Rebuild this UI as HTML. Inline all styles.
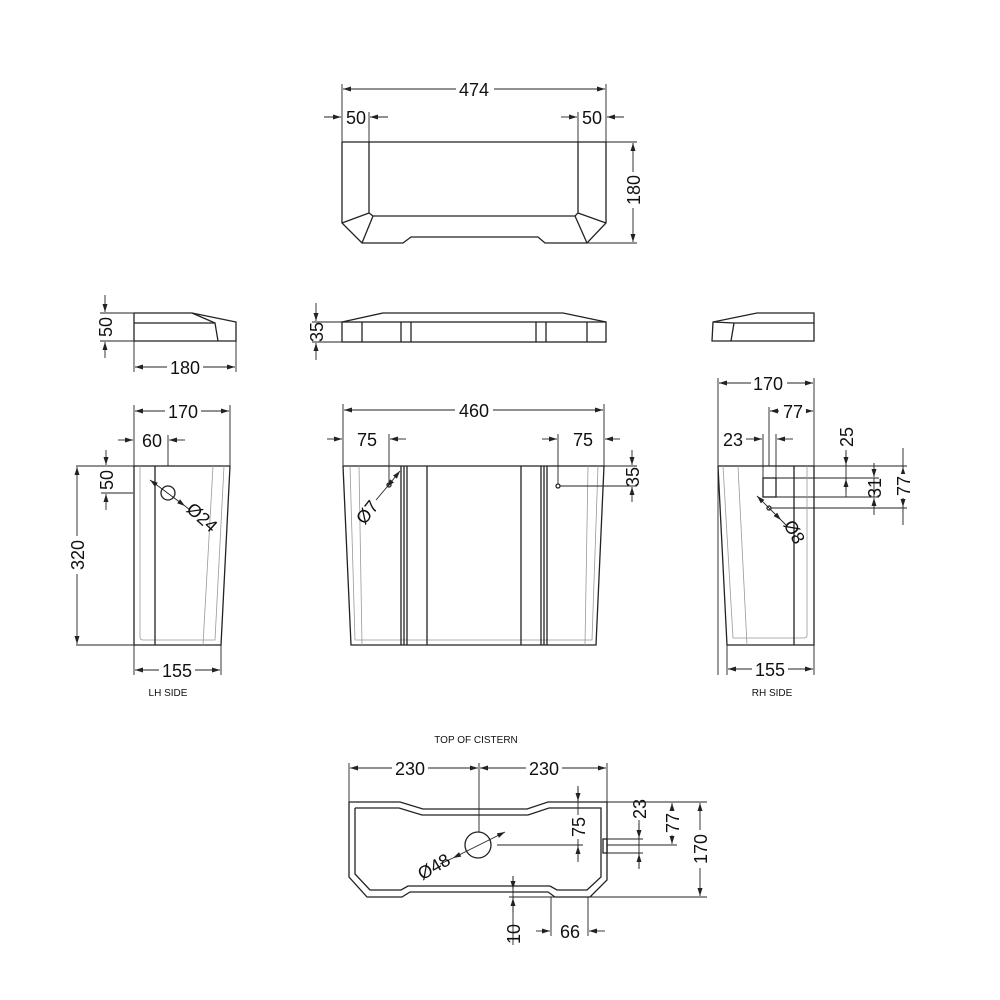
<!DOCTYPE html>
<html><head><meta charset="utf-8"><style>
html,body{margin:0;padding:0;background:#fff}
svg{display:block}
text{font-family:"Liberation Sans",sans-serif;font-size:18px;fill:#111}
.s{font-size:10px}
.b{fill:none;stroke:#222;stroke-width:1.3}
.l{fill:none;stroke:#999;stroke-width:0.8}
.d{fill:none;stroke:#222;stroke-width:0.9}
.a{fill:none;stroke:#222;stroke-width:0.9;marker-end:url(#m)}
.aa{fill:none;stroke:#222;stroke-width:0.9;marker-end:url(#m);marker-start:url(#m)}
</style></head><body>
<svg width="1000" height="1000" viewBox="0 0 1000 1000" xmlns="http://www.w3.org/2000/svg">
<defs><marker id="m" markerWidth="8" markerHeight="6" refX="8" refY="3" orient="auto-start-reverse" markerUnits="userSpaceOnUse"><path d="M0,0.5L8,3L0,5.5z" fill="#222"/></marker></defs>

<!-- TOP LID PLAN -->
<line class="d" x1="342" y1="84" x2="342" y2="142"/><line class="d" x1="606" y1="84" x2="606" y2="142"/>
<line class="aa" x1="343" y1="89" x2="605" y2="89"/>
<rect x="456" y="79" width="38" height="20" fill="#fff"/><text x="474" y="96" text-anchor="middle">474</text>
<line class="d" x1="369" y1="112" x2="369" y2="142"/><line class="d" x1="578" y1="112" x2="578" y2="142"/>
<line class="a" x1="324" y1="117" x2="341" y2="117"/><text x="356" y="124" text-anchor="middle">50</text><line class="a" x1="388" y1="117" x2="370" y2="117"/>
<line class="a" x1="561" y1="117" x2="577" y2="117"/><text x="592" y="124" text-anchor="middle">50</text><line class="a" x1="624" y1="117" x2="607" y2="117"/>
<line class="b" x1="342" y1="142" x2="606" y2="142"/><line class="d" x1="606" y1="142" x2="637" y2="142"/>
<polyline class="b" points="342,142 342,223 362,243 403,243 411,237 538,237 545,243 587,243 606,223 606,142"/>
<polyline class="b" points="369,142 369,213 373,216 575,216 578,213 578,142"/>
<line class="b" x1="369" y1="213" x2="342" y2="223"/><line class="b" x1="373" y1="216" x2="362" y2="243"/>
<line class="b" x1="578" y1="213" x2="606" y2="223"/><line class="b" x1="575" y1="216" x2="587" y2="243"/>
<line class="d" x1="587" y1="243" x2="637" y2="243"/>
<line class="aa" x1="633" y1="143" x2="633" y2="242"/>
<rect x="623" y="172" width="20" height="36" fill="#fff"/><text transform="translate(640,190) rotate(-90)" text-anchor="middle">180</text>

<!-- FRONT LID -->
<polyline class="b" points="342,322 383,313 563,313 606,322"/>
<rect class="b" x="342" y="322" width="264" height="20"/>
<line class="b" x1="362" y1="322" x2="362" y2="342"/><line class="b" x1="401" y1="322" x2="401" y2="342"/><line class="b" x1="411" y1="322" x2="411" y2="342"/>
<line class="b" x1="536" y1="322" x2="536" y2="342"/><line class="b" x1="546" y1="322" x2="546" y2="342"/><line class="b" x1="587" y1="322" x2="587" y2="342"/>
<line class="a" x1="316" y1="303" x2="316" y2="321"/><line class="a" x1="316" y1="360" x2="316" y2="343"/>
<line class="d" x1="312" y1="322" x2="342" y2="322"/><line class="d" x1="312" y1="342" x2="342" y2="342"/>
<text transform="translate(323,332) rotate(-90)" text-anchor="middle">35</text>

<!-- LEFT LID SIDE -->
<polyline class="b" points="134,313 192,313 236,322 236,341 134,341 134,313"/>
<polyline class="b" points="134,323 215,323 218,341"/><line class="b" x1="192" y1="313" x2="215" y2="323"/>
<line class="d" x1="100" y1="313" x2="134" y2="313"/><line class="d" x1="100" y1="341" x2="134" y2="341"/>
<line class="a" x1="105" y1="295" x2="105" y2="312"/><line class="a" x1="105" y1="358" x2="105" y2="342"/>
<text transform="translate(112,327) rotate(-90)" text-anchor="middle">50</text>
<line class="d" x1="134" y1="341" x2="134" y2="372"/><line class="d" x1="236" y1="341" x2="236" y2="372"/>
<line class="aa" x1="135" y1="367" x2="235" y2="367"/><rect x="167" y="357" width="36" height="20" fill="#fff"/><text x="185" y="374" text-anchor="middle">180</text>

<!-- RIGHT LID SIDE -->
<polyline class="b" points="757,313 814,313 814,341 712,341 713,322 757,313"/>
<line class="b" x1="734" y1="323" x2="814" y2="323"/><line class="b" x1="734" y1="323" x2="731" y2="341"/><line class="b" x1="713" y1="322" x2="734" y2="323"/>

<!-- LH SIDE -->
<line class="d" x1="134" y1="405" x2="134" y2="675"/><line class="d" x1="230" y1="405" x2="230" y2="466"/>
<line class="aa" x1="135" y1="411" x2="229" y2="411"/><rect x="165" y="401" width="36" height="20" fill="#fff"/><text x="183" y="418" text-anchor="middle">170</text>
<line class="a" x1="118" y1="440" x2="133" y2="440"/><text x="152" y="447" text-anchor="middle">60</text><line class="d" x1="168" y1="435" x2="168" y2="466"/><line class="a" x1="185" y1="440" x2="169" y2="440"/>
<line class="d" x1="76" y1="466" x2="134" y2="466"/><line class="b" x1="134" y1="466" x2="230" y2="466"/>
<polyline class="b" points="134,466 134,645 221,645 230,466"/>
<path class="l" d="M140,466 L140,637 Q140,640 143,640 L215,640 L224,466"/>
<line class="l" x1="213" y1="466" x2="203" y2="645"/>
<line class="b" x1="155" y1="466" x2="155" y2="645"/>
<line class="d" x1="101" y1="493" x2="133" y2="493"/>
<line class="a" x1="106" y1="450" x2="106" y2="465"/><line class="a" x1="106" y1="510" x2="106" y2="494"/>
<text transform="translate(113,480) rotate(-90)" text-anchor="middle">50</text>
<line class="aa" x1="77" y1="467" x2="77" y2="644"/><line class="d" x1="76" y1="645" x2="134" y2="645"/>
<rect x="67" y="536" width="20" height="38" fill="#fff"/><text transform="translate(84,555) rotate(-90)" text-anchor="middle">320</text>
<circle class="b" cx="168" cy="493" r="7"/>
<line class="aa" x1="150" y1="480" x2="185" y2="506"/><line class="d" x1="185" y1="506" x2="190" y2="510"/>
<text transform="translate(198,522) rotate(42)" text-anchor="middle">Ø24</text>
<line class="d" x1="221" y1="645" x2="221" y2="675"/>
<line class="aa" x1="135" y1="670" x2="220" y2="670"/><rect x="159" y="660" width="36" height="20" fill="#fff"/><text x="177" y="677" text-anchor="middle">155</text>
<text class="s" x="168" y="696" text-anchor="middle">LH SIDE</text>

<!-- FRONT VIEW -->
<line class="d" x1="343" y1="404" x2="343" y2="466"/><line class="d" x1="604" y1="404" x2="604" y2="466"/>
<line class="aa" x1="344" y1="410" x2="603" y2="410"/><rect x="455" y="400" width="38" height="20" fill="#fff"/><text x="474" y="417" text-anchor="middle">460</text>
<line class="a" x1="327" y1="439" x2="342" y2="439"/><text x="367" y="446" text-anchor="middle">75</text><line class="d" x1="389" y1="434" x2="389" y2="485"/><line class="a" x1="406" y1="439" x2="390" y2="439"/>
<line class="a" x1="542" y1="439" x2="557" y2="439"/><line class="d" x1="558" y1="434" x2="558" y2="484"/><text x="583" y="446" text-anchor="middle">75</text><line class="a" x1="620" y1="439" x2="605" y2="439"/>
<line class="b" x1="343" y1="466" x2="604" y2="466"/><line class="d" x1="604" y1="466" x2="637" y2="466"/>
<polyline class="b" points="343,466 351,645 596,645 604,466"/>
<polyline class="l" points="350,466 355,640 592,640 598,466"/>
<line class="l" x1="359" y1="466" x2="362" y2="645"/><line class="l" x1="588" y1="466" x2="585" y2="645"/>
<line class="b" x1="401" y1="466" x2="401" y2="645"/><line class="b" x1="404" y1="466" x2="404" y2="645"/><line class="b" x1="407" y1="466" x2="407" y2="645"/>
<line class="b" x1="427" y1="466" x2="427" y2="645"/><line class="b" x1="521" y1="466" x2="521" y2="645"/>
<line class="b" x1="541" y1="466" x2="541" y2="645"/><line class="b" x1="544" y1="466" x2="544" y2="645"/><line class="b" x1="547" y1="466" x2="547" y2="645"/>
<circle class="b" cx="389" cy="485" r="2"/><circle class="b" cx="558" cy="486" r="2"/>
<line class="aa" x1="400" y1="471" x2="387" y2="487"/><line class="d" x1="387" y1="487" x2="376" y2="500"/>
<text transform="translate(372,516) rotate(-52)" text-anchor="middle">Ø7</text>
<line class="d" x1="560" y1="486" x2="637" y2="486"/>
<line class="a" x1="632" y1="450" x2="632" y2="465"/><line class="a" x1="632" y1="502" x2="632" y2="487"/>
<text transform="translate(639,477) rotate(-90)" text-anchor="middle">35</text>

<!-- RH SIDE -->
<line class="d" x1="718" y1="378" x2="718" y2="675"/><line class="d" x1="814" y1="378" x2="814" y2="466"/>
<line class="aa" x1="719" y1="383" x2="813" y2="383"/><rect x="751" y="373" width="36" height="20" fill="#fff"/><text x="768" y="390" text-anchor="middle">170</text>
<line class="d" x1="769" y1="407" x2="769" y2="466"/>
<line class="aa" x1="770" y1="411" x2="813" y2="411"/><rect x="779" y="401" width="27" height="20" fill="#fff"/><text x="793" y="418" text-anchor="middle">77</text>
<line class="d" x1="763" y1="434" x2="763" y2="478"/><line class="d" x1="776" y1="434" x2="776" y2="478"/>
<line class="a" x1="746" y1="439" x2="762" y2="439"/><line class="a" x1="793" y1="439" x2="777" y2="439"/>
<text x="733" y="446" text-anchor="middle">23</text>
<line class="b" x1="718" y1="466" x2="814" y2="466"/><line class="d" x1="814" y1="466" x2="907" y2="466"/>
<rect class="b" x="763" y="478" width="13" height="19"/>
<line class="d" x1="776" y1="478" x2="879" y2="478"/><line class="d" x1="776" y1="497" x2="850" y2="497"/>
<line class="d" x1="771" y1="508" x2="907" y2="508"/>
<polyline class="b" points="718,466 727,645 814,645 814,466"/>
<path class="l" d="M723,466 L733,638 L804,638 Q807,638 807,635 L807,466"/>
<line class="l" x1="738" y1="466" x2="747" y2="645"/>
<line class="b" x1="794" y1="466" x2="794" y2="645"/>
<line class="d" x1="846" y1="450" x2="846" y2="497"/><line class="a" x1="846" y1="452" x2="846" y2="465"/><line class="a" x1="846" y1="492" x2="846" y2="479"/>
<text transform="translate(853,437) rotate(-90)" text-anchor="middle">25</text>
<line class="a" x1="874" y1="463" x2="874" y2="477"/><line class="a" x1="874" y1="515" x2="874" y2="498"/><line class="d" x1="874" y1="478" x2="874" y2="497"/><line class="d" x1="850" y1="497" x2="879" y2="497"/>
<text transform="translate(881,488) rotate(-90)" text-anchor="middle">31</text>
<line class="aa" x1="903" y1="467" x2="903" y2="507"/><line class="d" x1="903" y1="448" x2="903" y2="525"/>
<rect x="893" y="474" width="20" height="24" fill="#fff"/><text transform="translate(910,486) rotate(-90)" text-anchor="middle">77</text>
<circle class="b" cx="769" cy="508" r="2"/>
<line class="aa" x1="757" y1="496" x2="781" y2="520"/><line class="d" x1="781" y1="520" x2="786" y2="525"/>
<text transform="translate(789,535) rotate(60)" text-anchor="middle">Ø8</text>
<line class="d" x1="727" y1="645" x2="727" y2="675"/><line class="d" x1="814" y1="645" x2="814" y2="675"/>
<line class="aa" x1="728" y1="669" x2="813" y2="669"/><rect x="752" y="659" width="36" height="20" fill="#fff"/><text x="770" y="676" text-anchor="middle">155</text>
<text class="s" x="772" y="696" text-anchor="middle">RH SIDE</text>

<!-- TOP OF CISTERN -->
<text class="s" x="476" y="743" text-anchor="middle">TOP OF CISTERN</text>
<line class="d" x1="349" y1="763" x2="349" y2="802"/><line class="d" x1="479" y1="763" x2="479" y2="832"/><line class="d" x1="607" y1="763" x2="607" y2="802"/>
<line class="aa" x1="350" y1="768" x2="478" y2="768"/><line class="aa" x1="480" y1="768" x2="606" y2="768"/>
<rect x="392" y="758" width="36" height="20" fill="#fff"/><text x="410" y="775" text-anchor="middle">230</text>
<rect x="526" y="758" width="36" height="20" fill="#fff"/><text x="544" y="775" text-anchor="middle">230</text>
<polyline class="b" points="349,802 400,802 423,809 527,809 548,802 607,802 607,880 590,897 555,897 548,892 410,892 402,897 367,897 349,877 349,802"/>
<polyline class="b" points="355,808 399,808 422,815 528,815 549,808 601,808 601,877 587,890 557,890 550,886 408,886 401,890 370,890 355,874 355,808"/>
<circle class="b" cx="478" cy="845" r="13"/>
<line class="aa" x1="453" y1="858" x2="505" y2="832"/><line class="d" x1="440" y1="864" x2="453" y2="858"/>
<text transform="translate(437,872) rotate(-30)" text-anchor="middle">Ø48</text>
<line class="d" x1="497" y1="845" x2="583" y2="845"/>
<line class="d" x1="578" y1="786" x2="578" y2="862"/><line class="a" x1="578" y1="787" x2="578" y2="801"/><line class="a" x1="578" y1="860" x2="578" y2="846"/>
<rect x="568" y="815" width="20" height="24" fill="#fff"/><text transform="translate(585,827) rotate(-90)" text-anchor="middle">75</text>
<rect class="b" x="603" y="839" width="4" height="14"/>
<line class="d" x1="607" y1="839" x2="643" y2="839"/><line class="d" x1="607" y1="845" x2="677" y2="845"/><line class="d" x1="607" y1="853" x2="643" y2="853"/>
<line class="d" x1="639" y1="820" x2="639" y2="869"/><line class="a" x1="639" y1="823" x2="639" y2="838"/><line class="a" x1="639" y1="868" x2="639" y2="854"/>
<text transform="translate(646,809) rotate(-90)" text-anchor="middle">23</text>
<line class="aa" x1="672" y1="803" x2="672" y2="844"/>
<rect x="662" y="811" width="20" height="24" fill="#fff"/><text transform="translate(679,823) rotate(-90)" text-anchor="middle">77</text>
<line class="d" x1="607" y1="802" x2="707" y2="802"/><line class="d" x1="590" y1="897" x2="707" y2="897"/>
<line class="aa" x1="700" y1="803" x2="700" y2="896"/>
<rect x="690" y="830" width="20" height="38" fill="#fff"/><text transform="translate(707,849) rotate(-90)" text-anchor="middle">170</text>
<line class="d" x1="513" y1="876" x2="513" y2="945"/><line class="a" x1="513" y1="876" x2="513" y2="889"/><line class="a" x1="513" y1="912" x2="513" y2="898"/>
<line class="d" x1="509" y1="897" x2="555" y2="897"/>
<text transform="translate(520,934) rotate(-90)" text-anchor="middle">10</text>
<line class="d" x1="551" y1="897" x2="551" y2="936"/><line class="d" x1="588" y1="897" x2="588" y2="936"/>
<line class="a" x1="536" y1="931" x2="550" y2="931"/><line class="a" x1="605" y1="931" x2="589" y2="931"/>
<text x="570" y="938" text-anchor="middle">66</text>
</svg>
</body></html>
